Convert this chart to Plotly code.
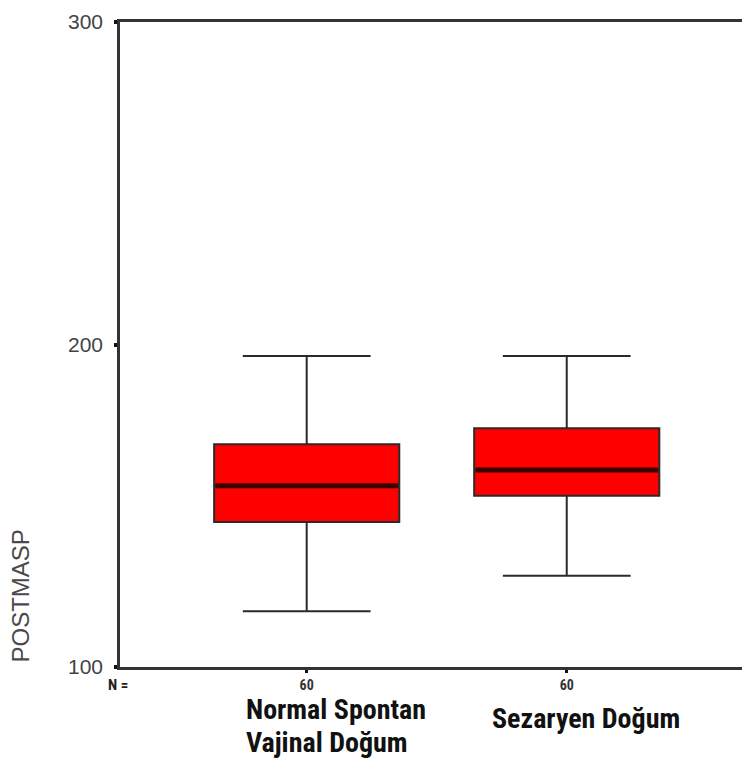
import plotly.graph_objects as go

# Box summary statistics for POSTMASP by delivery type
groups = ["Normal Spontan Vajinal Doğum", "Sezaryen Doğum"]
label_lines = [["Normal Spontan", "Vajinal Doğum"], ["Sezaryen Doğum"]]
n_counts = [60, 60]
lower_whisker = [117.3, 128.3]
q1 = [145.0, 153.1]
median = [156.2, 161.1]
q3 = [169.1, 174.0]
upper_whisker = [196.4, 196.4]

y_ticks = [100, 200, 300]

BOX_W = 0.712
positions = list(range(len(groups)))

NARROW = "Liberation Sans Narrow, Arial Narrow, Roboto Condensed, Roboto"

fig = go.Figure()

for i, g in enumerate(groups):
    fig.add_trace(go.Box(
        x=[positions[i]],
        q1=[q1[i]], median=[median[i]], q3=[q3[i]],
        lowerfence=[lower_whisker[i]], upperfence=[upper_whisker[i]],
        name=g,
        width=BOX_W,
        whiskerwidth=0.69,
        fillcolor="#ff0000",
        line=dict(color="#2a2a2a", width=2),
        boxpoints=False,
        hoverinfo="skip",
        showlegend=False,
    ))
    # heavier median bar
    fig.add_trace(go.Scatter(
        x=[positions[i] - BOX_W / 2 + 0.005, positions[i] + BOX_W / 2 - 0.005],
        y=[median[i], median[i]],
        mode="lines",
        line=dict(color="#3a0000", width=5),
        hoverinfo="skip",
        showlegend=False,
    ))

# category names under the N counts (paper x of left edge, pixel offsets of each line)
label_x = [0.1989, 0.5949]
line_offsets = [[42, 75], [51]]
for xp, lines, offs in zip(label_x, label_lines, line_offsets):
    for txt, off in zip(lines, offs):
        fig.add_annotation(
            x=xp, y=0, xref="paper", yref="paper",
            xanchor="left", yanchor="middle", yshift=-off,
            text=f"<b>{txt}</b>", showarrow=False, align="left",
            font=dict(family=NARROW, size=28, color="#111111"),
        )

fig.add_annotation(
    x=0, y=0, xref="paper", yref="paper",
    xanchor="center", yanchor="middle", xshift=-2, yshift=-18,
    text="<b>N =</b>", showarrow=False,
    font=dict(family=NARROW, size=15, color="#222222"),
)

fig.add_annotation(
    x=0, y=0, xref="paper", yref="paper",
    xanchor="center", yanchor="bottom", xshift=-100, yshift=2,
    text="POSTMASP", textangle=-90, showarrow=False,
    font=dict(family="Liberation Sans", size=24, color="#4a4a4a"),
)

fig.update_layout(
    width=742, height=758,
    margin=dict(l=120, r=0, t=22, b=91),
    paper_bgcolor="white", plot_bgcolor="white",
    showlegend=False,
    xaxis=dict(
        range=[-0.718, 1.674],
        tickvals=positions,
        ticktext=[f"<b>{n}</b>" for n in n_counts],
        tickfont=dict(family=NARROW, size=14, color="#333333"),
        ticks="outside", ticklen=3, tickwidth=3, tickcolor="#111111",
        showline=True, linecolor="#333333", linewidth=2.5,
        mirror=True, showgrid=False, zeroline=False,
    ),
    yaxis=dict(
        range=[100, 300],
        tickvals=y_ticks,
        ticktext=[str(v) for v in y_ticks],
        tickfont=dict(family="Liberation Sans", size=21, color="#444444"),
        ticks="outside", ticklen=3, tickwidth=4, tickcolor="#111111",
        ticklabelstandoff=7,
        showline=True, linecolor="#333333", linewidth=2.5,
        showgrid=False, zeroline=False,
    ),
)

fig.write_html("out.html")
